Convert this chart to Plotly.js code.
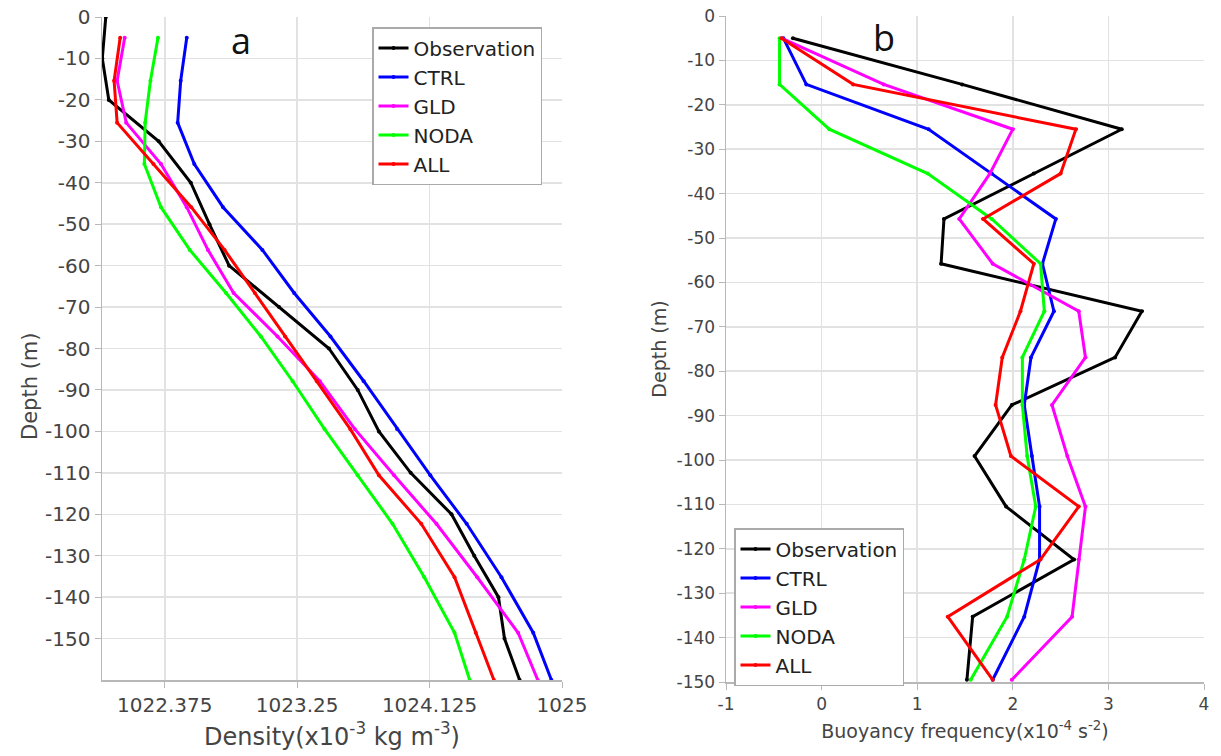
<!DOCTYPE html>
<html>
<head>
<meta charset="utf-8">
<script src="https://cdn.plot.ly/plotly-3.0.1.min.js"></script>
<style>html,body{margin:0;padding:0;background:#fff;}#chart{width:1221px;height:756px;}</style>
</head>
<body>
<div id="chart"></div>
<script>
// ---- Data ----
const seriesNames = ["Observation", "CTRL", "GLD", "NODA", "ALL"];
const seriesColors = ["#000000", "#0000ff", "#ff00ff", "#00ff00", "#ff0000"];

// Panel a: density
const obsDepth = [0, -10, -20, -30, -40, -50, -60, -70, -80, -90, -100, -110, -120, -130, -140, -150, -160];
const obsDensity = [1021.985, 1021.962, 1022.005, 1022.335, 1022.547, 1022.67, 1022.80, 1023.13, 1023.46, 1023.65, 1023.79, 1024.00, 1024.27, 1024.42, 1024.58, 1024.62, 1024.72];

const modelDepth = [-5, -15.4, -25.5, -35.5, -45.9, -56.2, -66.6, -77.1, -87.9, -99.4, -110.6, -122.3, -135.2, -148.6, -160];
const ctrlDensity = [1022.52, 1022.48, 1022.46, 1022.57, 1022.76, 1023.02, 1023.23, 1023.47, 1023.69, 1023.91, 1024.13, 1024.37, 1024.60, 1024.81, 1024.93];
const gldDensity  = [1022.11, 1022.06, 1022.12, 1022.35, 1022.52, 1022.66, 1022.83, 1023.12, 1023.40, 1023.63, 1023.89, 1024.17, 1024.44, 1024.71, 1024.84];
const nodaDensity = [1022.33, 1022.28, 1022.245, 1022.24, 1022.35, 1022.54, 1022.78, 1023.01, 1023.22, 1023.43, 1023.65, 1023.88, 1024.09, 1024.29, 1024.39];
const allDensity  = [1022.08, 1022.04, 1022.06, 1022.30, 1022.55, 1022.77, 1022.97, 1023.17, 1023.38, 1023.60, 1023.79, 1024.07, 1024.29, 1024.43, 1024.55];

// Panel b: buoyancy frequency (x10^-4 s^-2)
const nDepth = [-5, -15.4, -25.5, -35.5, -45.7, -55.8, -66.5, -76.9, -87.6, -99.1, -110.5, -122.4, -135.3, -149.5];
const obsN  = [-0.30, 1.47, 3.14, 2.22, 1.28, 1.25, 3.35, 3.07, 1.99, 1.60, 1.93, 2.64, 1.58, 1.52];
const ctrlN = [-0.40, -0.16, 1.12, 1.78, 2.45, 2.31, 2.43, 2.19, 2.12, 2.20, 2.28, 2.28, 2.12, 1.79];
const gldN  = [-0.42, 0.65, 2.00, 1.76, 1.44, 1.79, 2.69, 2.76, 2.41, 2.57, 2.76, 2.69, 2.62, 1.99];
const nodaN = [-0.44, -0.44, 0.08, 1.11, 1.78, 2.29, 2.33, 2.10, 2.10, 2.15, 2.24, 2.12, 1.94, 1.56];
const allN  = [-0.42, 0.33, 2.66, 2.50, 1.69, 2.22, 2.08, 1.89, 1.82, 1.98, 2.69, 2.29, 1.32, 1.79];

const densityTicks = [1022.375, 1023.25, 1024.125, 1025];
const densityTickText = ["1022.375", "1023.25", "1024.125", "1025"];
const depthTicks = [0, -10, -20, -30, -40, -50, -60, -70, -80, -90, -100, -110, -120, -130, -140, -150];
const nTicks = [-1, 0, 1, 2, 3, 4];

// ---- Traces ----
const leftX = [obsDensity, ctrlDensity, gldDensity, nodaDensity, allDensity];
const leftY = [obsDepth, modelDepth, modelDepth, modelDepth, modelDepth];
const rightX = [obsN, ctrlN, gldN, nodaN, allN];

const traces = [];
seriesNames.forEach((name, i) => {
  traces.push({
    type: "scatter", mode: "lines+markers", name: name,
    x: leftX[i], y: leftY[i], xaxis: "x", yaxis: "y",
    line: {color: seriesColors[i], width: 3},
    marker: {color: seriesColors[i], size: 4},
    legend: "legend", cliponaxis: true
  });
});
seriesNames.forEach((name, i) => {
  traces.push({
    type: "scatter", mode: "lines+markers", name: name,
    x: rightX[i], y: nDepth, xaxis: "x2", yaxis: "y2",
    line: {color: seriesColors[i], width: 3},
    marker: {color: seriesColors[i], size: 4},
    legend: "legend2", cliponaxis: true
  });
});

const gridC = "#e2e2e2", lineC = "#b8b8b8", tickC = "#444";
const FONT = "DejaVu Sans, sans-serif";
const hy = v => String(v);  // plain hyphen-minus labels, as in the reference

const layout = {
  width: 1221, height: 756,
  margin: {l: 0, r: 0, t: 0, b: 0},
  paper_bgcolor: "#fff", plot_bgcolor: "#fff",
  font: {family: FONT, color: tickC},
  showlegend: true,
  xaxis: {
    domain: [102/1221, 562/1221], anchor: "y",
    range: [1021.96, 1025],
    tickvals: densityTicks, ticktext: densityTickText,
    showgrid: true, gridcolor: gridC, gridwidth: 1.5,
    showline: true, linecolor: lineC, linewidth: 1.5,
    ticks: "outside", ticklen: 6, tickcolor: lineC,
    zeroline: false,
    tickfont: {size: 20, family: FONT, color: tickC},
    title: {text: "Density(x10<sup>-3</sup> kg m<sup>-3</sup>)", font: {size: 24, family: FONT, color: tickC}, standoff: 12}
  },
  yaxis: {
    domain: [1 - 680/756, 1 - 17/756], anchor: "x",
    range: [-160, 0],
    tickvals: depthTicks, ticktext: depthTicks.map(hy),
    showgrid: true, gridcolor: gridC, gridwidth: 1.5,
    showline: true, linecolor: lineC, linewidth: 1.5,
    ticks: "outside", ticklen: 6, tickcolor: lineC,
    zeroline: false,
    tickfont: {size: 20, family: FONT, color: tickC}
  },
  xaxis2: {
    domain: [726/1221, 1204/1221], anchor: "y2",
    range: [-1, 4],
    tickvals: nTicks, ticktext: nTicks.map(hy),
    showgrid: true, gridcolor: gridC, gridwidth: 1.5,
    showline: true, linecolor: lineC, linewidth: 1.5,
    ticks: "outside", ticklen: 6, tickcolor: lineC,
    zeroline: false,
    tickfont: {size: 17, family: FONT, color: tickC},
    title: {text: "Buoyancy frequency(x10<sup>-4</sup> s<sup>-2</sup>)", font: {size: 19, family: FONT, color: tickC}, standoff: 12}
  },
  yaxis2: {
    domain: [1 - 682/756, 1 - 16/756], anchor: "x2",
    range: [-150, 0],
    tickvals: depthTicks, ticktext: depthTicks.map(hy),
    showgrid: true, gridcolor: gridC, gridwidth: 1.5,
    showline: true, linecolor: lineC, linewidth: 1.5,
    ticks: "outside", ticklen: 6, tickcolor: lineC,
    zeroline: false,
    tickfont: {size: 17, family: FONT, color: tickC},
    title: {text: "Depth (m)", font: {size: 19, family: FONT, color: tickC}, standoff: 5}
  },
  legend: {
    x: 372/1221, y: 1 - 27/756, xanchor: "left", yanchor: "top",
    bgcolor: "#fff", bordercolor: "#aaa", borderwidth: 1.5,
    font: {size: 20, family: FONT, color: "#222"},
    tracegroupgap: 0, itemwidth: 30
  },
  legend2: {
    x: 734/1221, y: 1 - 528/756, xanchor: "left", yanchor: "top",
    bgcolor: "#fff", bordercolor: "#aaa", borderwidth: 1.5,
    font: {size: 20, family: FONT, color: "#222"},
    tracegroupgap: 0, itemwidth: 30
  },
  annotations: [
    {text: "Depth (m)", x: 30/1221, y: 1 - 386/756, xref: "paper", yref: "paper", showarrow: false,
     textangle: -90, xanchor: "center", yanchor: "middle",
     font: {size: 21, family: FONT, color: tickC}},
    {text: "a", x: 241/1221, y: 1 - 40/756, xref: "paper", yref: "paper", showarrow: false,
     xanchor: "center", yanchor: "middle",
     font: {size: 36, family: "Open Sans, sans-serif", color: "#111"}},
    {text: "b", x: 884/1221, y: 1 - 38/756, xref: "paper", yref: "paper", showarrow: false,
     xanchor: "center", yanchor: "middle",
     font: {size: 36, family: "Open Sans, sans-serif", color: "#111"}}
  ]
};

Plotly.newPlot("chart", traces, layout, {displayModeBar: false, staticPlot: true});
</script>
</body>
</html>
